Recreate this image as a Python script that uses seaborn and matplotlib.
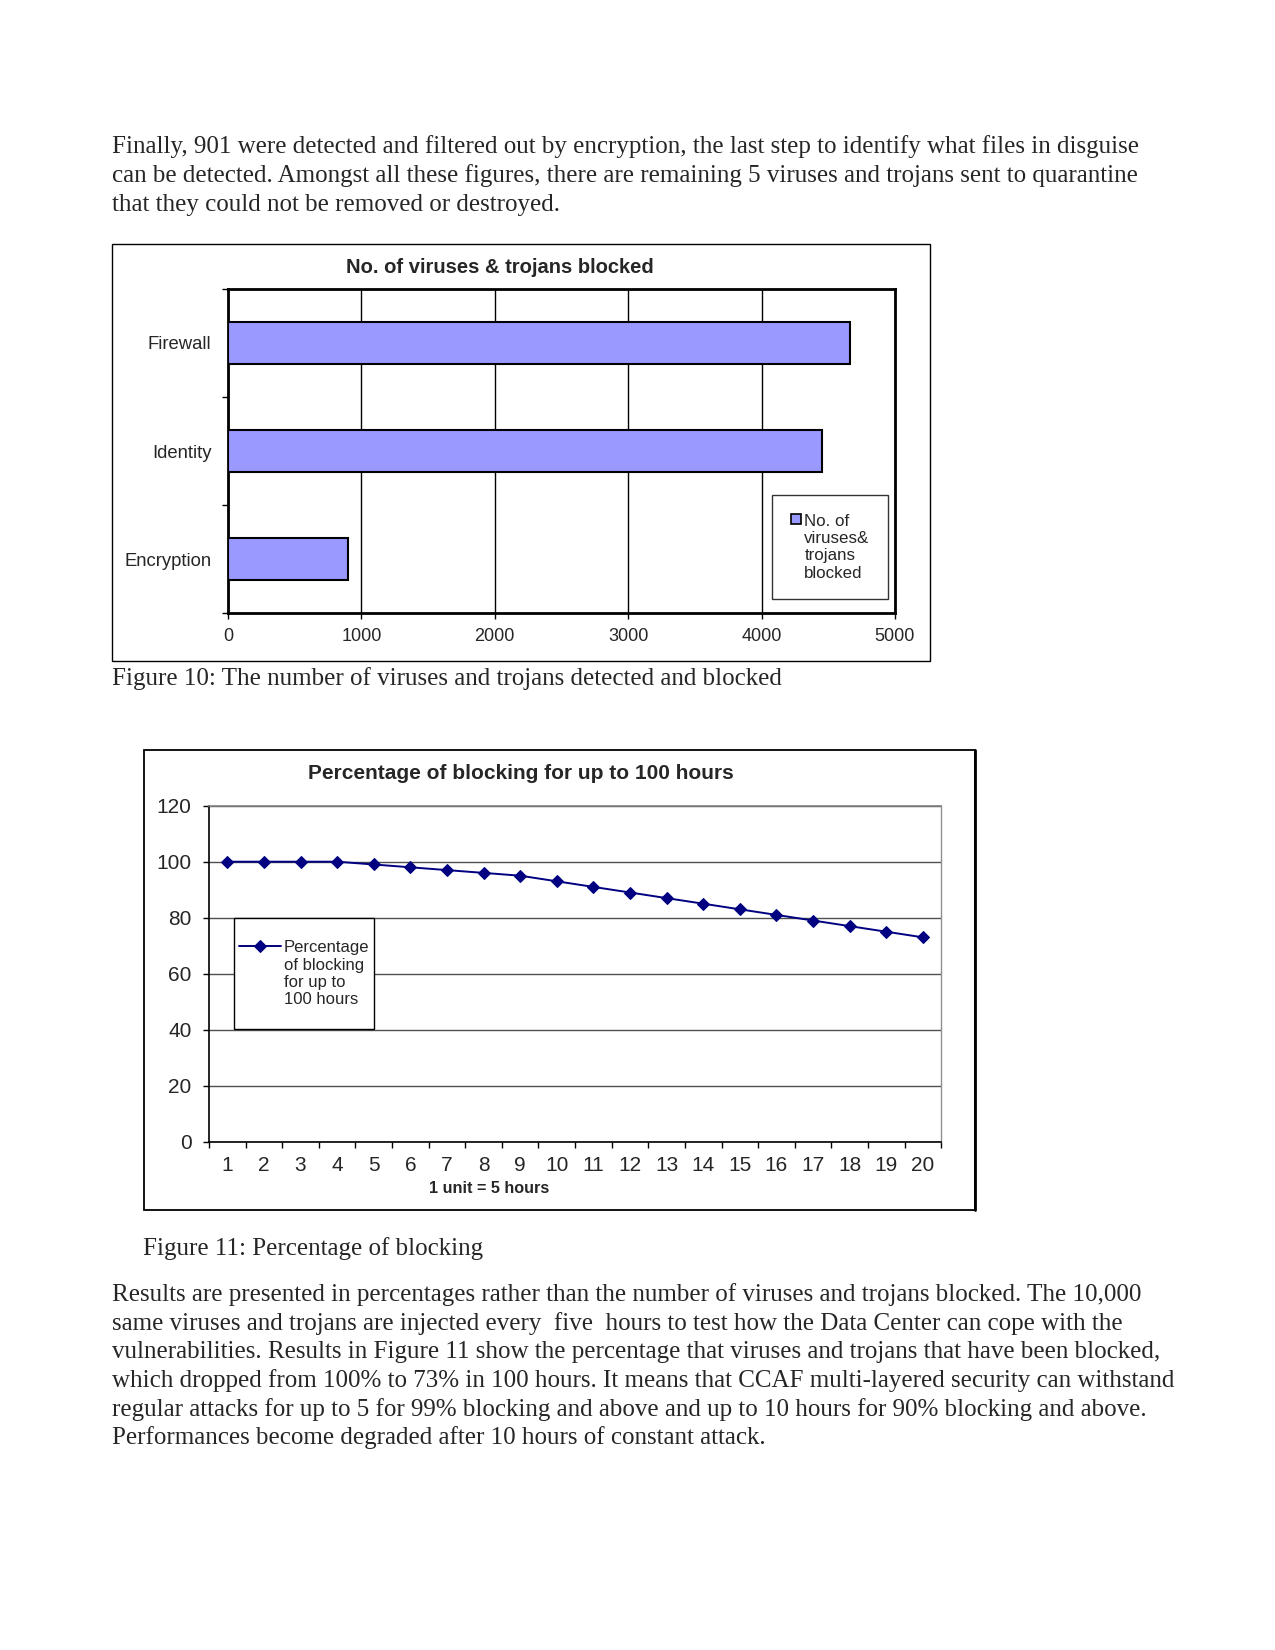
import matplotlib
matplotlib.use("Agg")
import matplotlib.pyplot as plt
import seaborn as sns
import pandas as pd
from matplotlib.patches import Rectangle, Patch
from matplotlib.lines import Line2D
from matplotlib.path import Path

# ---------------- data ----------------
bar_categories = ["Firewall", "Identity", "Encryption"]
bar_values = [4660, 4450, 901]
bar_xticks = [0, 1000, 2000, 3000, 4000, 5000]
bar_title = "No. of viruses & trojans blocked"
bar_legend = "No. of\nviruses&\ntrojans\nblocked"

line_units = list(range(1, 21))
line_pct = [100, 100, 100, 100, 99, 98, 97, 96, 95, 93, 91, 89, 87, 85, 83, 81, 79, 77, 75, 73]
line_yticks = [0, 20, 40, 60, 80, 100, 120]
line_title = "Percentage of blocking for up to 100 hours"
line_legend = "Percentage\nof blocking\nfor up to\n100 hours"
line_xlabel = "1 unit = 5 hours"

para_top = [
    "Finally, 901 were detected and filtered out by encryption, the last step to identify what files in disguise",
    "can be detected. Amongst all these figures, there are remaining 5 viruses and trojans sent to quarantine",
    "that they could not be removed or destroyed.",
]
caption1 = "Figure 10: The number of viruses and trojans detected and blocked"
caption2 = "Figure 11: Percentage of blocking"
para_bottom = [
    "Results are presented in percentages rather than the number of viruses and trojans blocked. The 10,000",
    "same viruses and trojans are injected every  five  hours to test how the Data Center can cope with the",
    "vulnerabilities. Results in Figure 11 show the percentage that viruses and trojans that have been blocked,",
    "which dropped from 100% to 73% in 100 hours. It means that CCAF multi-layered security can withstand",
    "regular attacks for up to 5 for 99% blocking and above and up to 10 hours for 90% blocking and above.",
    "Performances become degraded after 10 hours of constant attack.",
]

# ---------------- setup ----------------
sns.set_style("white")
plt.rcParams["font.family"] = ["Liberation Sans", "DejaVu Sans"]

W, H = 1275, 1650
S = 1 / 0.952  # layout measured on a scaled view
fig = plt.figure(figsize=(W / 100, H / 100), dpi=100)
fig.patch.set_facecolor("white")


def fx(x):
    return x * S / W


def fy(y):
    return 1 - y * S / H


def frame(x0, y0, x1, y1, lw=1.0):
    fig.add_artist(Rectangle((fx(x0), fy(y1)), fx(x1) - fx(x0), fy(y0) - fy(y1),
                             transform=fig.transFigure, fill=False, ec="black", lw=lw))


def tall_box(x0, y0, width, height, mutation_size):
    px = 0.3 * mutation_size
    py = 1.3 * mutation_size
    return Path([(x0 - px, y0 - py), (x0 + width + px, y0 - py),
                 (x0 + width + px, y0 + height + py), (x0 - px, y0 + height + py),
                 (x0 - px, y0 - py)], closed=True)


serif = ["Liberation Serif", "DejaVu Serif"]
for i, line in enumerate(para_top):
    fig.text(fx(107), fy(137 + i * 27.5 + 8.5), line, family=serif, fontsize=18, va="baseline", ha="left")
fig.text(fx(107), fy(644 + 8.5), caption1, family=serif, fontsize=18, va="baseline", ha="left")
fig.text(fx(136), fy(1186 + 8.5), caption2, family=serif, fontsize=18, va="baseline", ha="left")
for i, line in enumerate(para_bottom):
    fig.text(fx(107), fy(1230 + i * 27.3 + 8.5), line, family=serif, fontsize=18, va="baseline", ha="left")

# ---------------- chart 1: horizontal bars ----------------
frame(107, 232, 885, 629)
fig.text(fx(476), fy(255), bar_title, fontsize=14.5, fontweight="bold", ha="center", va="center")

ax1 = fig.add_axes([fx(217), fy(584), fx(852) - fx(217), fy(275) - fy(584)])
df1 = pd.DataFrame({"cat": bar_categories, "val": bar_values})
sns.barplot(data=df1, x="val", y="cat", orient="h", color="#9999FF", edgecolor="black",
            linewidth=1.5, width=0.39, saturation=1, ax=ax1, zorder=3)
ax1.set_xlim(bar_xticks[0], bar_xticks[-1])
ax1.set_ylim(2.5, -0.5)
ax1.set_xticks(bar_xticks)
ax1.set_xticklabels([str(v) for v in bar_xticks], fontsize=13)
ax1.set_yticks(range(len(bar_categories)))
ax1.set_yticklabels(bar_categories, fontsize=13.3)
ax1.set_yticks([-0.5, 0.5, 1.5, 2.5], minor=True)
ax1.tick_params(axis="y", which="major", length=0, pad=12)
ax1.tick_params(axis="y", which="minor", length=4.5, width=1, direction="out", color="black", left=True)
ax1.tick_params(axis="x", which="major", length=4, width=1, direction="out", pad=6.5, color="black", bottom=True)
ax1.set_xlabel("")
ax1.set_ylabel("")
ax1.grid(axis="x", color="black", lw=1, zorder=0)
ax1.set_axisbelow(True)
for s in ax1.spines.values():
    s.set_color("black")
    s.set_linewidth(2)
leg1 = ax1.legend(handles=[Patch(facecolor="#9999FF", edgecolor="black", lw=1.2, label=bar_legend)],
                  loc="center", bbox_to_anchor=(0.903, 0.204), fontsize=12.2, frameon=True, fancybox=False,
                  edgecolor="black", handlelength=0.6, handleheight=0.6, handletextpad=0.2,
                  borderpad=1.1, borderaxespad=0, labelspacing=0.2)
leg1.get_frame().set_linewidth(1)
for col in leg1._legend_handle_box.get_children():
    for item in col.get_children():
        item.align = "top"

# ---------------- chart 2: line ----------------
frame(137, 714, 928, 1152, lw=1.3)
fig.add_artist(Line2D([fx(928), fx(928)], [fy(714), fy(1152)], transform=fig.transFigure, color="black", lw=2))
fig.text(fx(496), fy(736.5), line_title, fontsize=15, fontweight="bold", ha="center", va="center")

ax2 = fig.add_axes([fx(199), fy(1087), fx(896) - fx(199), fy(767) - fy(1087)])
df2 = pd.DataFrame({"unit": line_units, "pct": line_pct})
sns.lineplot(data=df2, x="unit", y="pct", color="#000080", marker="D", markersize=6,
             markeredgecolor="#000080", lw=1.4, ax=ax2, label=line_legend, zorder=3)
ax2.set_xlim(0.5, 20.5)
ax2.set_ylim(0, 120)
ax2.set_yticks(line_yticks)
ax2.set_yticklabels([str(v) for v in line_yticks], fontsize=15)
ax2.set_xticks(line_units)
ax2.set_xticklabels([str(v) for v in line_units], fontsize=15)
ax2.set_xticks([u + 0.5 for u in [0] + line_units], minor=True)
ax2.tick_params(axis="x", which="major", length=0, pad=10.5)
ax2.tick_params(axis="x", which="minor", length=4, width=1, direction="out", color="black", bottom=True)
ax2.tick_params(axis="y", which="major", length=4.5, width=1, direction="out", pad=8, color="black", left=True)
ax2.set_ylabel("")
ax2.set_xlabel(line_xlabel, fontsize=11.7, fontweight="bold")
ax2.xaxis.set_label_coords(0.382, -0.14)
ax2.xaxis.label.set_va("center")
ax2.grid(axis="y", color="#505050", lw=1, zorder=0)
ax2.set_axisbelow(True)
ax2.spines["left"].set_color("black")
ax2.spines["bottom"].set_color("black")
ax2.spines["left"].set_linewidth(1.2)
ax2.spines["bottom"].set_linewidth(1.2)
ax2.spines["top"].set_color("#808080")
ax2.spines["right"].set_color("#909090")
ax2.spines["top"].set_linewidth(1.2)
ax2.spines["right"].set_linewidth(1)
leg2 = ax2.legend(loc="center", bbox_to_anchor=(0.130, 0.5), fontsize=12, frameon=True, fancybox=False,
                  edgecolor="black", handlelength=2.5, handletextpad=0.2, borderpad=0.0, borderaxespad=0,
                  framealpha=1, labelspacing=0.2)
leg2.get_frame().set_linewidth(1)
leg2.get_frame().set_boxstyle(tall_box)
for col in leg2._legend_handle_box.get_children():
    for item in col.get_children():
        item.align = "top"

fig.savefig("out.png", dpi=100, facecolor="white")
